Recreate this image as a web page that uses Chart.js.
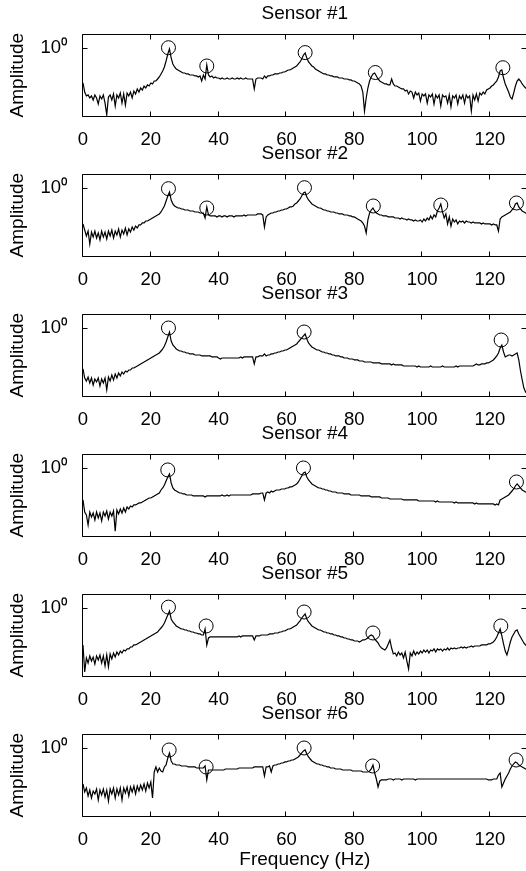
<!DOCTYPE html>
<html>
<head>
<meta charset="utf-8">
<script src="https://cdn.jsdelivr.net/npm/chart.js@4/dist/chart.umd.min.js"></script>
<style>
html,body{margin:0;padding:0;background:#fff;width:526px;height:871px;overflow:hidden;position:relative;}
canvas{position:absolute;left:0;}
</style>
</head>
<body>
<script>
// ---------- data ----------
const freqHz = [
0,0.5,1,1.5,2,2.5,3,3.5,4,4.5,
5,5.5,6,6.5,7,7.5,8,8.5,9,9.5,
10,10.5,11,11.5,12,12.5,13,13.5,14,14.5,
15,15.5,16,16.5,17,17.5,18,18.5,19,19.5,
20,20.5,21,21.5,22,22.5,23,23.5,24,24.5,
25,25.5,26,26.5,27,27.5,28,28.5,29,29.5,
30,30.5,31,31.5,32,32.5,33,33.5,34,34.5,
35,35.5,36,36.5,37,37.5,38,38.5,39,39.5,
40,40.5,41,41.5,42,42.5,43,43.5,44,44.5,
45,45.5,46,46.5,47,47.5,48,48.5,49,49.5,
50,50.5,51,51.5,52,52.5,53,53.5,54,54.5,
55,55.5,56,56.5,57,57.5,58,58.5,59,59.5,
60,60.5,61,61.5,62,62.5,63,63.5,64,64.5,
65,65.5,66,66.5,67,67.5,68,68.5,69,69.5,
70,70.5,71,71.5,72,72.5,73,73.5,74,74.5,
75,75.5,76,76.5,77,77.5,78,78.5,79,79.5,
80,80.5,81,81.5,82,82.5,83,83.5,84,84.5,
85,85.5,86,86.5,87,87.5,88,88.5,89,89.5,
90,90.5,91,91.5,92,92.5,93,93.5,94,94.5,
95,95.5,96,96.5,97,97.5,98,98.5,99,99.5,
100,100.5,101,101.5,102,102.5,103,103.5,104,104.5,
105,105.5,106,106.5,107,107.5,108,108.5,109,109.5,
110,110.5,111,111.5,112,112.5,113,113.5,114,114.5,
115,115.5,116,116.5,117,117.5,118,118.5,119,119.5,
120,120.5,121,121.5,122,122.5,123,123.5,124,124.5,
125,125.5,126,126.5,127,127.5,128,128.5,129,129.5,
130,130.5,131
];
const xTicks = [0,20,40,60,80,100,120];
const yTicks = [1];
const sensorTitles = ['Sensor #1','Sensor #2','Sensor #3','Sensor #4','Sensor #5','Sensor #6'];
const xLabel = 'Frequency (Hz)';
const yLabel = 'Amplitude';

const amp1 = [
.306,.225,.197,.204,.184,.197,.172,.204,.184,.150,
.197,.178,.204,.155,.104,.190,.204,.172,.211,.140,
.204,.184,.218,.155,.211,.145,.218,.197,.225,.184,
.233,.211,.250,.225,.258,.241,.276,.258,.286,.276,
.306,.296,.327,.327,.350,.375,.415,.459,.526,.644,
.816,.967,.713,.582,.526,.491,.475,.459,.444,.429,
.429,.415,.415,.401,.401,.401,.388,.388,.375,.388,
.327,.401,.350,.562,.401,.375,.388,.362,.375,.362,
.362,.350,.362,.350,.350,.362,.350,.350,.362,.350,
.350,.362,.350,.362,.350,.350,.362,.350,.350,.350,
.350,.250,.350,.362,.362,.362,.350,.388,.362,.388,
.388,.401,.401,.415,.415,.415,.429,.429,.444,.444,
.459,.475,.475,.491,.508,.526,.544,.582,.623,.689,
.789,.845,.713,.623,.582,.544,.526,.491,.475,.459,
.444,.429,.415,.415,.401,.401,.388,.388,.375,.375,
.375,.362,.362,.362,.350,.350,.350,.339,.339,.327,
.327,.316,.306,.296,.276,.225,.118,.184,.258,.327,
.375,.415,.429,.388,.350,.327,.316,.306,.296,.296,
.286,.286,.350,.296,.276,.276,.267,.258,.250,.250,
.233,.241,.211,.233,.225,.184,.225,.204,.218,.166,
.211,.197,.211,.155,.204,.190,.211,.150,.204,.184,
.204,.140,.204,.190,.197,.155,.204,.136,.197,.184,
.204,.150,.197,.178,.204,.155,.204,.184,.197,.118,
.204,.172,.211,.166,.218,.204,.225,.211,.241,.250,
.258,.276,.286,.306,.327,.375,.459,.475,.362,.296,
.258,.225,.190,.178,.218,.276,.327,.350,.327,.296,
.276,.258,.250
];
const amp2 = [
.296,.241,.197,.233,.150,.225,.190,.233,.184,.218,
.172,.233,.190,.225,.178,.233,.197,.241,.184,.233,
.204,.250,.190,.241,.211,.258,.204,.250,.225,.267,
.241,.276,.258,.286,.286,.306,.306,.327,.327,.339,
.350,.362,.375,.388,.401,.415,.444,.491,.544,.644,
.763,.873,.666,.582,.544,.526,.508,.508,.491,.491,
.475,.475,.475,.459,.459,.459,.444,.444,.444,.429,
.429,.429,.362,.526,.401,.388,.388,.388,.388,.375,
.388,.388,.375,.388,.388,.375,.388,.388,.388,.375,
.388,.388,.388,.388,.388,.401,.388,.401,.401,.401,
.401,.401,.401,.415,.415,.415,.401,.267,.375,.401,
.415,.429,.429,.444,.444,.459,.459,.475,.475,.491,
.491,.508,.526,.526,.544,.582,.602,.644,.689,.763,
.845,.873,.737,.666,.623,.582,.562,.544,.526,.508,
.508,.491,.475,.475,.459,.459,.444,.444,.444,.429,
.429,.415,.415,.415,.401,.401,.401,.388,.388,.375,
.375,.362,.350,.339,.327,.306,.276,.218,.339,.429,
.475,.508,.459,.429,.415,.401,.401,.388,.388,.388,
.375,.375,.375,.375,.362,.362,.362,.350,.362,.350,
.350,.339,.350,.339,.339,.327,.339,.327,.327,.339,
.316,.350,.327,.362,.339,.388,.350,.401,.375,.459,
.508,.582,.444,.362,.415,.296,.375,.276,.350,.316,
.339,.296,.327,.316,.327,.306,.327,.316,.316,.306,
.316,.306,.306,.306,.306,.296,.306,.296,.296,.296,
.296,.286,.296,.286,.286,.233,.350,.375,.388,.401,
.415,.429,.444,.475,.508,.582,.602,.526,.491,.459,
.444,.429,.415
];
const amp3 = [
.250,.184,.166,.190,.155,.184,.145,.178,.161,.184,
.140,.178,.155,.184,.123,.190,.166,.204,.172,.211,
.184,.218,.197,.225,.211,.233,.225,.241,.241,.258,
.258,.267,.276,.286,.296,.306,.316,.327,.339,.350,
.362,.375,.388,.401,.415,.429,.459,.491,.544,.623,
.737,.873,.644,.562,.526,.491,.475,.459,.459,.444,
.444,.429,.429,.415,.415,.415,.401,.401,.401,.401,
.388,.388,.388,.388,.388,.388,.375,.375,.375,.375,
.362,.350,.362,.362,.362,.362,.362,.362,.362,.362,
.362,.362,.362,.375,.362,.375,.375,.375,.375,.375,
.375,.296,.375,.375,.388,.388,.388,.415,.388,.401,
.401,.415,.415,.429,.429,.444,.444,.459,.459,.475,
.475,.491,.508,.526,.544,.562,.582,.623,.666,.713,
.763,.816,.689,.602,.562,.526,.508,.491,.475,.475,
.459,.444,.444,.429,.429,.415,.415,.401,.401,.388,
.388,.388,.375,.375,.362,.362,.362,.350,.350,.350,
.339,.339,.339,.327,.327,.327,.316,.316,.316,.316,
.316,.306,.306,.306,.306,.306,.296,.296,.296,.296,
.296,.296,.286,.296,.286,.286,.286,.286,.286,.276,
.276,.276,.276,.276,.276,.276,.276,.267,.276,.267,
.267,.267,.267,.267,.267,.276,.267,.267,.267,.267,
.267,.267,.276,.267,.267,.267,.267,.267,.267,.267,
.276,.267,.276,.276,.276,.276,.276,.276,.276,.276,
.276,.286,.296,.286,.286,.296,.296,.296,.306,.306,
.316,.327,.339,.362,.388,.429,.508,.562,.444,.375,
.388,.401,.401,.388,.401,.415,.429,.339,.233,.172,
.131,.115,.107
];
const amp4 = [
.339,.225,.204,.145,.225,.190,.218,.172,.225,.184,
.218,.166,.225,.197,.233,.178,.225,.197,.233,.118,
.241,.211,.250,.218,.258,.225,.267,.250,.276,.267,
.286,.286,.296,.306,.306,.316,.327,.339,.350,.362,
.362,.375,.388,.401,.415,.429,.475,.508,.562,.644,
.737,.816,.602,.508,.475,.459,.444,.429,.429,.415,
.415,.401,.401,.401,.401,.388,.388,.388,.388,.388,
.388,.388,.375,.388,.388,.388,.388,.388,.388,.388,
.388,.388,.401,.388,.388,.401,.388,.401,.401,.401,
.401,.401,.401,.401,.401,.401,.401,.401,.401,.401,
.415,.415,.415,.415,.415,.429,.429,.339,.429,.444,
.429,.459,.444,.459,.475,.475,.475,.491,.491,.491,
.508,.508,.526,.526,.544,.562,.582,.623,.689,.763,
.845,.873,.737,.666,.623,.582,.562,.544,.526,.508,
.508,.491,.491,.475,.475,.459,.459,.444,.444,.444,
.429,.429,.429,.429,.415,.415,.415,.415,.401,.401,
.401,.401,.401,.401,.388,.388,.388,.388,.388,.388,
.375,.375,.375,.375,.375,.375,.362,.362,.362,.362,
.362,.350,.350,.350,.350,.350,.350,.350,.350,.339,
.339,.339,.339,.339,.339,.339,.339,.339,.327,.327,
.327,.327,.327,.327,.327,.327,.327,.327,.316,.327,
.316,.316,.316,.316,.316,.316,.316,.316,.316,.306,
.316,.306,.306,.306,.306,.306,.306,.306,.306,.306,
.306,.296,.306,.296,.296,.296,.296,.296,.296,.296,
.296,.296,.296,.286,.296,.286,.339,.350,.362,.375,
.388,.401,.429,.459,.491,.544,.582,.544,.508,.475,
.459,.444,.429
];
const amp5 = [
.286,.115,.184,.155,.197,.166,.190,.150,.197,.172,
.204,.155,.197,.140,.204,.136,.211,.178,.218,.190,
.225,.204,.233,.218,.241,.233,.250,.250,.267,.267,
.286,.286,.296,.306,.316,.327,.339,.350,.362,.375,
.388,.401,.415,.429,.444,.475,.508,.544,.602,.689,
.789,.904,.689,.623,.582,.544,.526,.508,.491,.491,
.475,.475,.459,.459,.444,.444,.429,.429,.415,.415,
.401,.401,.491,.286,.362,.375,.375,.375,.375,.375,
.375,.375,.375,.375,.375,.375,.375,.375,.375,.375,
.375,.375,.388,.375,.388,.388,.388,.388,.388,.388,
.388,.339,.388,.388,.388,.401,.401,.401,.401,.401,
.415,.415,.415,.429,.429,.429,.444,.444,.459,.459,
.475,.491,.491,.508,.526,.544,.562,.602,.644,.713,
.763,.816,.689,.623,.582,.544,.526,.508,.491,.475,
.475,.459,.444,.444,.429,.429,.415,.415,.401,.401,
.388,.388,.375,.375,.362,.362,.350,.350,.339,.339,
.327,.327,.327,.316,.327,.339,.339,.350,.362,.388,
.401,.388,.350,.327,.306,.276,.258,.250,.241,.258,
.296,.339,.258,.211,.218,.197,.225,.204,.218,.184,
.225,.166,.127,.218,.197,.233,.204,.225,.211,.233,
.218,.241,.225,.241,.218,.241,.233,.250,.225,.250,
.241,.250,.233,.250,.241,.258,.241,.258,.250,.258,
.250,.258,.258,.267,.258,.267,.258,.267,.267,.276,
.267,.276,.276,.276,.276,.286,.286,.286,.286,.296,
.296,.306,.316,.339,.375,.429,.491,.388,.296,.233,
.204,.250,.316,.375,.415,.459,.475,.415,.375,.339,
.306,.286,.276
];
const amp6 = [
.296,.225,.258,.197,.241,.184,.233,.211,.250,.172,
.241,.204,.250,.190,.241,.166,.250,.211,.258,.184,
.250,.204,.258,.172,.258,.218,.267,.197,.267,.225,
.276,.211,.276,.233,.286,.241,.296,.233,.306,.258,
.316,.184,.444,.526,.444,.508,.459,.444,.526,.562,
.713,.845,.644,.582,.582,.562,.562,.562,.544,.544,
.544,.544,.526,.526,.526,.526,.526,.508,.508,.508,
.508,.508,.544,.339,.475,.475,.475,.475,.475,.475,
.475,.475,.475,.475,.491,.491,.491,.491,.491,.491,
.491,.491,.508,.508,.508,.508,.508,.508,.508,.508,
.508,.526,.526,.526,.526,.526,.526,.388,.526,.526,
.544,.444,.544,.562,.562,.582,.582,.602,.602,.623,
.623,.644,.644,.666,.666,.689,.713,.737,.789,.845,
.904,.935,.816,.737,.689,.644,.623,.602,.582,.582,
.562,.562,.544,.544,.526,.526,.508,.508,.508,.491,
.491,.491,.491,.475,.475,.475,.475,.475,.475,.459,
.459,.459,.459,.459,.459,.444,.444,.444,.444,.459,
.491,.562,.429,.350,.267,.327,.339,.339,.339,.339,
.350,.350,.350,.339,.350,.350,.350,.350,.339,.350,
.350,.350,.350,.350,.350,.350,.339,.350,.350,.350,
.350,.350,.350,.350,.350,.350,.350,.350,.350,.350,
.350,.350,.350,.350,.350,.350,.350,.350,.350,.350,
.350,.350,.350,.350,.350,.350,.350,.350,.350,.350,
.350,.350,.350,.350,.350,.350,.350,.350,.350,.339,
.339,.339,.350,.350,.350,.401,.429,.267,.306,.350,
.388,.429,.491,.544,.582,.623,.602,.562,.544,.526,
.508,.491,.475
];

// picked peaks (circle markers)
const peakHz1 = [25.2, 36.5, 65.5, 86.2, 123.8];
const peakAmp1 = [1.01, 0.544, 0.856, 0.436, 0.513];
const peakHz2 = [25.2, 36.5, 65.3, 85.6, 105.5, 127.8];
const peakAmp2 = [0.977, 0.508, 1.01, 0.544, 0.562, 0.602];
const peakHz3 = [25.2, 65.2, 123.3];
const peakAmp3 = [1.0, 0.873, 0.666];
const peakHz4 = [25.0, 65.0, 127.8];
const peakAmp4 = [0.936, 1.0, 0.623];
const peakHz5 = [25.2, 36.3, 65.2, 85.5, 123.2];
const peakAmp5 = [1.03, 0.544, 0.873, 0.429, 0.544];
const peakHz6 = [25.4, 36.3, 65.2, 85.4, 127.7];
const peakAmp6 = [0.935, 0.526, 1.0, 0.544, 0.666];

// ---------- chart construction ----------
const FONT = "'Liberation Sans', Arial, Helvetica, sans-serif";
const sensors = [
  {title: sensorTitles[0], amp: amp1, pkHz: peakHz1, pkAmp: peakAmp1},
  {title: sensorTitles[1], amp: amp2, pkHz: peakHz2, pkAmp: peakAmp2},
  {title: sensorTitles[2], amp: amp3, pkHz: peakHz3, pkAmp: peakAmp3},
  {title: sensorTitles[3], amp: amp4, pkHz: peakHz4, pkAmp: peakAmp4},
  {title: sensorTitles[4], amp: amp5, pkHz: peakHz5, pkAmp: peakAmp5},
  {title: sensorTitles[5], amp: amp6, pkHz: peakHz6, pkAmp: peakAmp6}
];

const framePlugin = {
  id: 'frame',
  afterDatasetsDraw(chart) {
    const {ctx, chartArea: a, scales: {x, y}} = chart;
    const L = Math.round(a.left) - 0.5, R = Math.round(a.right) - 0.5;
    const T = Math.round(a.top) + 0.5, B = Math.round(a.bottom) + 0.5;
    const TL = 5;
    ctx.save();
    ctx.strokeStyle = '#000';
    ctx.lineWidth = 1;
    ctx.beginPath();
    ctx.rect(L, T, R - L, B - T);
    xTicks.forEach(v => {
      const px = Math.round(x.getPixelForValue(v)) - 0.5;
      ctx.moveTo(px, B); ctx.lineTo(px, B - TL);
      ctx.moveTo(px, T); ctx.lineTo(px, T + TL);
    });
    yTicks.forEach(v => {
      const py = Math.round(y.getPixelForValue(v)) + 0.5;
      ctx.moveTo(L, py); ctx.lineTo(L + TL, py);
      ctx.moveTo(R, py); ctx.lineTo(R - TL, py);
    });
    ctx.stroke();
    ctx.restore();
  }
};

sensors.forEach((s, k) => {
  const last = k === sensors.length - 1;
  const H = last ? 171 : 160;
  const cv = document.createElement('canvas');
  cv.width = 560; cv.height = H;
  cv.style.top = (k * 140) + 'px';
  cv.style.width = '560px'; cv.style.height = H + 'px';
  document.body.appendChild(cv);
  const xAxisH = H - 116;
  new Chart(cv, {
    type: 'scatter',
    data: {
      datasets: [
        {
          data: s.pkHz.map((f, i) => ({x: f, y: s.pkAmp[i]})),
          pointStyle: 'circle', pointRadius: 7, pointHoverRadius: 7,
          pointBorderWidth: 1, pointBorderColor: '#000',
          pointBackgroundColor: 'rgba(0,0,0,0)',
          showLine: false, clip: false, order: 0
        },
        {
          data: freqHz.map((f, i) => ({x: f, y: s.amp[i]})),
          showLine: true, borderColor: '#000', borderWidth: 1.2,
          pointRadius: 0, pointHoverRadius: 0, tension: 0, fill: false, order: 1
        }
      ]
    },
    options: {
      responsive: false, animation: false, events: [],
      layout: {padding: {left: 0, right: 33.4, top: 0, bottom: 0}},
      plugins: {
        legend: {display: false},
        tooltip: {enabled: false},
        title: {
          display: true, text: s.title, color: '#000', fullSize: false,
          font: {family: FONT, size: 19, weight: 400},
          padding: {top: 2, bottom: 9.5}
        }
      },
      scales: {
        x: {
          type: 'linear', min: 0, max: 130.8,
          afterBuildTicks: sc => { sc.ticks = xTicks.map(v => ({value: v})); },
          afterFit: sc => { sc.height = xAxisH; },
          grid: {display: false, drawTicks: false},
          border: {display: false},
          ticks: {color: '#000', font: {family: FONT, size: 18.5}, padding: 12.5,
                  maxRotation: 0, autoSkip: false, callback: v => String(v)},
          title: {display: last, text: xLabel, color: '#000',
                  font: {family: FONT, size: 19, weight: 400}, padding: {top: 0, bottom: 0}}
        },
        y: {
          type: 'logarithmic', min: 0.1, max: 1.59,
          afterBuildTicks: sc => { sc.ticks = yTicks.map(v => ({value: v})); },
          afterFit: sc => { sc.width = 83; },
          grid: {display: false, drawTicks: false},
          border: {display: false},
          ticks: {color: '#000', font: {family: FONT, size: 18.5}, padding: 16,
                  callback: v => (v === 1 ? '10\u2070' : '')},
          title: {display: true, text: yLabel, color: '#000',
                  font: {family: FONT, size: 19, weight: 400}, padding: {top: 6, bottom: 0}}
        }
      }
    },
    plugins: [framePlugin]
  });
});
</script>
</body>
</html>
